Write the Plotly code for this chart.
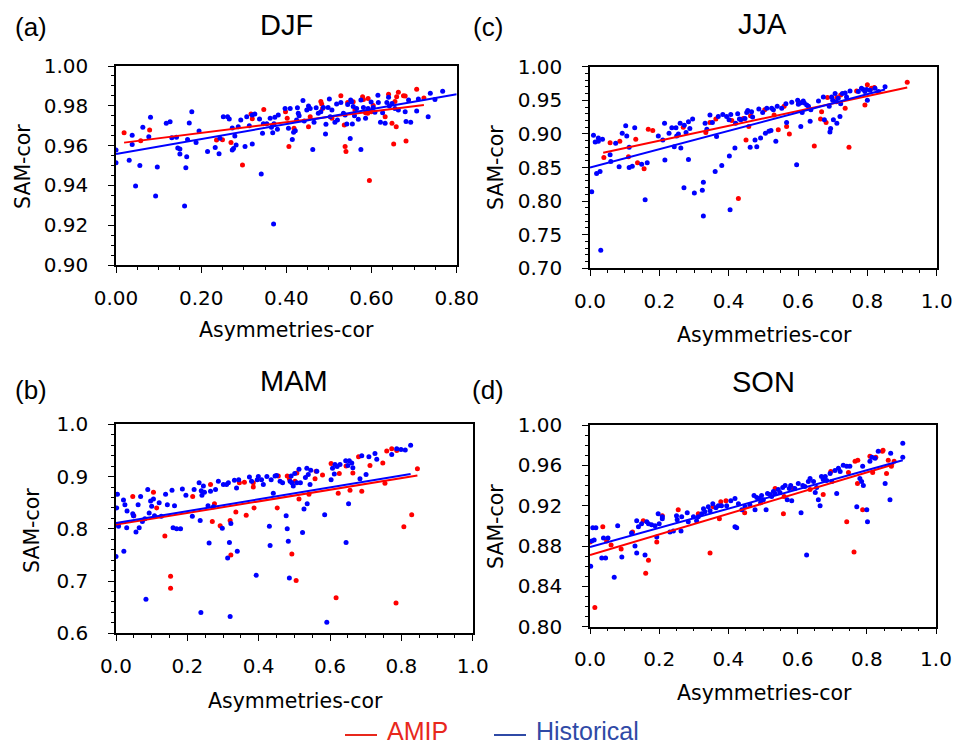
import plotly.graph_objects as go

# ---------------- data ----------------
djf_hist = [(0.000,0.9578),(0.000,0.9514),(0.031,0.9526),(0.038,0.9652),(0.038,0.9606),(0.046,0.9397),
 (0.056,0.9500),(0.063,0.9692),(0.077,0.9645),(0.081,0.9742),(0.093,0.9347),(0.097,0.9492),(0.118,0.9712),
 (0.127,0.9720),(0.131,0.9640),(0.142,0.9642),(0.145,0.9588),(0.150,0.9583),(0.150,0.9558),(0.161,0.9296),
 (0.164,0.9489),(0.166,0.9544),(0.168,0.9631),(0.172,0.9714),(0.178,0.9770),(0.188,0.9616),(0.195,0.9673),
 (0.215,0.9570),(0.233,0.9591),(0.242,0.9559),(0.244,0.9637),(0.252,0.9745),(0.262,0.9745),(0.266,0.9734),
 (0.273,0.9688),(0.273,0.9578),(0.276,0.9586),(0.279,0.9648),(0.282,0.9603),(0.287,0.9695),(0.293,0.9729),
 (0.303,0.9595),(0.307,0.9745),(0.313,0.9700),(0.320,0.9608),(0.320,0.9754),(0.326,0.9759),(0.337,0.9734),
 (0.341,0.9457),(0.344,0.9662),(0.346,0.9710),(0.354,0.9710),(0.362,0.9737),(0.365,0.9692),(0.368,0.9665),
 (0.370,0.9206),(0.371,0.9710),(0.373,0.9742),(0.379,0.9682),(0.381,0.9754),(0.397,0.9787),(0.405,0.9687),
 (0.409,0.9787),(0.414,0.9631),(0.417,0.9667),(0.421,0.9675),(0.424,0.9729),(0.426,0.9790),(0.428,0.9762),
 (0.430,0.9750),(0.439,0.9827),(0.442,0.9724),(0.448,0.9779),(0.452,0.9799),(0.456,0.9787),(0.462,0.9581),
 (0.465,0.9717),(0.470,0.9790),(0.475,0.9762),(0.481,0.9770),(0.487,0.9792),(0.492,0.9658),(0.493,0.9707),
 (0.498,0.9792),(0.501,0.9834),(0.503,0.9745),(0.507,0.9779),(0.514,0.9717),(0.518,0.9809),(0.520,0.9729),
 (0.528,0.9816),(0.534,0.9762),(0.538,0.9754),(0.542,0.9709),(0.544,0.9807),(0.550,0.9636),(0.551,0.9829),
 (0.553,0.9820),(0.555,0.9709),(0.557,0.9796),(0.560,0.9750),(0.565,0.9787),(0.569,0.9732),(0.575,0.9581),
 (0.575,0.9829),(0.581,0.9792),(0.586,0.9737),(0.592,0.9787),(0.599,0.9819),(0.604,0.9792),(0.608,0.9767),
 (0.615,0.9853),(0.616,0.9817),(0.621,0.9717),(0.626,0.9765),(0.632,0.9712),(0.636,0.9816),(0.640,0.9843),
 (0.642,0.9799),(0.648,0.9812),(0.655,0.9787),(0.663,0.9779),(0.679,0.9770),(0.681,0.9721),(0.687,0.9829),
 (0.692,0.9717),(0.706,0.9774),(0.710,0.9834),(0.733,0.9745),(0.738,0.9863),(0.749,0.9832),(0.767,0.9873)]

djf_amip = [(0.019,0.9665),(0.079,0.9678),(0.058,0.9625),(0.236,0.9628),(0.250,0.9630),(0.270,0.9615),
 (0.297,0.9503),(0.317,0.9759),(0.320,0.9735),(0.347,0.9782),(0.398,0.9770),(0.402,0.9737),(0.406,0.9595),
 (0.418,0.9687),(0.452,0.9695),(0.456,0.9745),(0.481,0.9821),(0.483,0.9809),(0.485,0.9787),(0.507,0.9737),
 (0.528,0.9851),(0.536,0.9704),(0.538,0.9595),(0.540,0.9570),(0.544,0.9816),(0.557,0.9820),(0.561,0.9779),
 (0.579,0.9846),(0.581,0.9832),(0.586,0.9765),(0.591,0.9762),(0.592,0.9837),(0.595,0.9424),(0.599,0.9770),
 (0.604,0.9802),(0.632,0.9745),(0.640,0.9858),(0.648,0.9712),(0.652,0.9608),(0.655,0.9821),(0.658,0.9695),
 (0.659,0.9846),(0.663,0.9868),(0.675,0.9851),(0.679,0.9849),(0.681,0.9623),(0.706,0.9883),(0.723,0.9839)]

jja_hist = [(0.005,0.814),(0.010,0.898),(0.015,0.888),(0.019,0.841),(0.024,0.894),(0.024,0.889),(0.029,0.844),
 (0.031,0.727),(0.036,0.892),(0.058,0.869),(0.060,0.859),(0.074,0.886),(0.084,0.851),(0.093,0.901),(0.103,0.912),
 (0.106,0.897),(0.113,0.880),(0.113,0.850),(0.122,0.852),(0.129,0.909),(0.149,0.855),(0.159,0.802),(0.165,0.857),
 (0.197,0.897),(0.210,0.891),(0.215,0.916),(0.216,0.861),(0.228,0.901),(0.236,0.909),(0.243,0.881),(0.248,0.909),
 (0.250,0.897),(0.255,0.900),(0.260,0.916),(0.262,0.879),(0.271,0.820),(0.272,0.913),(0.277,0.902),(0.284,0.918),
 (0.284,0.862),(0.288,0.908),(0.296,0.922),(0.301,0.812),(0.324,0.816),(0.327,0.828),(0.327,0.778),(0.332,0.916),
 (0.337,0.907),(0.346,0.928),(0.353,0.917),(0.361,0.844),(0.365,0.896),(0.370,0.926),(0.380,0.853),(0.383,0.929),
 (0.394,0.926),(0.401,0.921),(0.402,0.867),(0.404,0.787),(0.406,0.929),(0.418,0.879),(0.420,0.916),(0.426,0.930),
 (0.431,0.922),(0.435,0.921),(0.447,0.923),(0.452,0.932),(0.455,0.935),(0.462,0.880),(0.466,0.933),(0.469,0.925),
 (0.476,0.891),(0.481,0.881),(0.487,0.937),(0.492,0.894),(0.498,0.932),(0.506,0.901),(0.510,0.938),(0.516,0.904),
 (0.522,0.905),(0.524,0.938),(0.529,0.936),(0.536,0.889),(0.540,0.941),(0.553,0.938),(0.567,0.917),(0.565,0.945),
 (0.582,0.947),(0.596,0.854),(0.599,0.950),(0.601,0.944),(0.606,0.946),(0.608,0.911),(0.612,0.932),(0.615,0.949),
 (0.618,0.946),(0.625,0.943),(0.630,0.941),(0.635,0.919),(0.637,0.936),(0.659,0.949),(0.673,0.955),(0.676,0.921),
 (0.690,0.941),(0.692,0.903),(0.694,0.908),(0.697,0.955),(0.700,0.950),(0.702,0.921),(0.707,0.960),(0.710,0.948),
 (0.712,0.916),(0.716,0.953),(0.721,0.926),(0.723,0.945),(0.728,0.960),(0.736,0.961),(0.740,0.955),(0.750,0.964),
 (0.774,0.963),(0.783,0.968),(0.788,0.966),(0.793,0.963),(0.798,0.966),(0.800,0.950),(0.808,0.965),(0.822,0.968),
 (0.832,0.963),(0.851,0.970)]

jja_amip = [(0.040,0.865),(0.058,0.887),(0.086,0.889),(0.111,0.866),(0.132,0.892),(0.137,0.857),(0.156,0.848),
 (0.168,0.907),(0.181,0.905),(0.269,0.910),(0.334,0.902),(0.346,0.917),(0.363,0.922),(0.409,0.920),(0.428,0.804),
 (0.442,0.923),(0.450,0.891),(0.458,0.911),(0.463,0.927),(0.504,0.936),(0.531,0.928),(0.543,0.906),(0.560,0.941),
 (0.567,0.911),(0.575,0.900),(0.601,0.948),(0.647,0.882),(0.665,0.922),(0.668,0.933),(0.681,0.917),(0.685,0.954),
 (0.712,0.954),(0.723,0.958),(0.736,0.938),(0.747,0.880),(0.769,0.964),(0.793,0.943),(0.800,0.973),(0.812,0.968),
 (0.820,0.969),(0.915,0.977)]

mam_hist = [(0.000,0.747),(0.002,0.840),(0.004,0.866),(0.006,0.808),(0.007,0.805),(0.021,0.855),(0.022,0.757),
 (0.025,0.846),(0.030,0.802),(0.031,0.834),(0.047,0.829),(0.049,0.825),(0.056,0.794),(0.062,0.846),(0.065,0.802),
 (0.069,0.862),(0.074,0.814),(0.081,0.819),(0.084,0.665),(0.089,0.875),(0.093,0.830),(0.097,0.853),(0.100,0.843),
 (0.105,0.857),(0.108,0.825),(0.121,0.850),(0.127,0.824),(0.139,0.866),(0.144,0.846),(0.157,0.874),(0.160,0.802),
 (0.164,0.844),(0.170,0.800),(0.181,0.800),(0.186,0.876),(0.196,0.864),(0.214,0.824),(0.219,0.875),(0.233,0.888),
 (0.236,0.816),(0.238,0.640),(0.239,0.873),(0.241,0.864),(0.245,0.882),(0.248,0.870),(0.258,0.844),(0.261,0.773),
 (0.265,0.872),(0.273,0.842),(0.279,0.875),(0.287,0.891),(0.298,0.801),(0.301,0.885),(0.310,0.885),(0.313,0.744),
 (0.315,0.888),(0.318,0.774),(0.320,0.632),(0.322,0.810),(0.332,0.893),(0.338,0.878),(0.340,0.757),(0.344,0.894),
 (0.374,0.899),(0.380,0.891),(0.393,0.711),(0.396,0.894),(0.399,0.900),(0.408,0.894),(0.413,0.885),(0.423,0.900),
 (0.430,0.805),(0.432,0.768),(0.435,0.894),(0.441,0.868),(0.446,0.901),(0.450,0.902),(0.460,0.891),(0.467,0.888),
 (0.477,0.825),(0.480,0.800),(0.483,0.776),(0.486,0.706),(0.488,0.891),(0.491,0.901),(0.493,0.888),(0.497,0.882),
 (0.501,0.906),(0.507,0.888),(0.513,0.914),(0.517,0.888),(0.523,0.793),(0.527,0.838),(0.531,0.898),(0.535,0.916),
 (0.536,0.848),(0.539,0.904),(0.544,0.885),(0.546,0.912),(0.563,0.910),(0.585,0.827),(0.591,0.621),(0.603,0.894),
 (0.607,0.916),(0.612,0.905),(0.614,0.923),(0.620,0.919),(0.628,0.923),(0.644,0.930),(0.645,0.774),(0.650,0.921),
 (0.652,0.848),(0.654,0.930),(0.661,0.926),(0.664,0.917),(0.684,0.896),(0.689,0.940),(0.701,0.904),(0.709,0.938),
 (0.726,0.944),(0.731,0.933),(0.773,0.942),(0.787,0.953),(0.799,0.952),(0.811,0.951),(0.826,0.960)]

mam_amip = [(0.047,0.862),(0.050,0.825),(0.105,0.870),(0.114,0.840),(0.137,0.786),(0.153,0.709),(0.153,0.686),
 (0.215,0.862),(0.265,0.885),(0.270,0.814),(0.276,0.848),(0.292,0.806),(0.320,0.816),(0.322,0.750),(0.336,0.832),
 (0.346,0.888),(0.360,0.889),(0.365,0.826),(0.385,0.888),(0.385,0.880),(0.387,0.840),(0.452,0.840),(0.455,0.901),
 (0.480,0.901),(0.486,0.896),(0.493,0.752),(0.502,0.891),(0.505,0.701),(0.507,0.907),(0.513,0.857),(0.541,0.866),
 (0.558,0.896),(0.561,0.910),(0.579,0.903),(0.603,0.925),(0.617,0.668),(0.623,0.868),(0.626,0.906),(0.645,0.920),
 (0.656,0.874),(0.664,0.907),(0.680,0.938),(0.689,0.872),(0.712,0.921),(0.748,0.926),(0.754,0.887),(0.759,0.949),
 (0.773,0.953),(0.787,0.950),(0.785,0.658),(0.807,0.804),(0.829,0.827),(0.845,0.915)]

son_hist = [(0.002,0.860),(0.005,0.885),(0.008,0.898),(0.012,0.886),(0.017,0.898),(0.034,0.868),(0.039,0.888),
 (0.045,0.868),(0.052,0.888),(0.070,0.849),(0.080,0.900),(0.092,0.869),(0.120,0.893),(0.130,0.880),(0.135,0.905),
 (0.135,0.873),(0.140,0.899),(0.149,0.902),(0.159,0.871),(0.164,0.904),(0.169,0.902),(0.178,0.901),(0.188,0.900),
 (0.193,0.889),(0.197,0.912),(0.200,0.902),(0.209,0.909),(0.209,0.907),(0.231,0.894),(0.241,0.895),(0.250,0.910),
 (0.252,0.906),(0.263,0.895),(0.265,0.909),(0.281,0.913),(0.284,0.904),(0.299,0.909),(0.308,0.905),(0.313,0.909),
 (0.323,0.912),(0.328,0.917),(0.332,0.914),(0.342,0.919),(0.347,0.915),(0.355,0.922),(0.364,0.918),(0.371,0.920),
 (0.380,0.920),(0.395,0.920),(0.407,0.925),(0.419,0.927),(0.419,0.899),(0.424,0.898),(0.429,0.922),(0.439,0.916),
 (0.448,0.919),(0.462,0.921),(0.474,0.930),(0.477,0.916),(0.482,0.928),(0.489,0.927),(0.493,0.923),(0.496,0.930),
 (0.501,0.926),(0.509,0.916),(0.513,0.932),(0.520,0.931),(0.525,0.929),(0.530,0.934),(0.535,0.932),(0.544,0.936),
 (0.549,0.933),(0.557,0.938),(0.564,0.940),(0.570,0.926),(0.576,0.937),(0.580,0.940),(0.583,0.925),(0.592,0.937),
 (0.602,0.942),(0.610,0.913),(0.615,0.940),(0.621,0.939),(0.626,0.871),(0.631,0.944),(0.636,0.947),(0.646,0.944),
 (0.651,0.933),(0.655,0.938),(0.660,0.926),(0.665,0.920),(0.669,0.949),(0.674,0.946),(0.680,0.949),(0.684,0.945),
 (0.694,0.952),(0.699,0.944),(0.708,0.955),(0.713,0.932),(0.718,0.957),(0.723,0.954),(0.732,0.960),(0.742,0.959),
 (0.751,0.959),(0.771,0.919),(0.780,0.947),(0.785,0.944),(0.788,0.959),(0.790,0.940),(0.800,0.916),(0.802,0.904),
 (0.809,0.964),(0.815,0.968),(0.824,0.967),(0.833,0.974),(0.853,0.942),(0.867,0.926),(0.869,0.972),(0.904,0.982),
 (0.904,0.968)]

son_amip = [(0.000,0.884),(0.014,0.819),(0.037,0.899),(0.048,0.885),(0.061,0.881),(0.090,0.877),(0.123,0.894),
 (0.154,0.905),(0.161,0.853),(0.169,0.866),(0.193,0.884),(0.209,0.910),(0.255,0.916),(0.313,0.912),(0.347,0.873),
 (0.356,0.919),(0.374,0.907),(0.378,0.924),(0.393,0.925),(0.447,0.913),(0.535,0.937),(0.559,0.912),(0.561,0.929),
 (0.588,0.937),(0.636,0.936),(0.674,0.931),(0.696,0.954),(0.742,0.904),(0.747,0.953),(0.763,0.874),(0.766,0.964),
 (0.774,0.965),(0.773,0.942),(0.788,0.916),(0.809,0.969),(0.817,0.953),(0.826,0.968),(0.845,0.974),(0.847,0.975),
 (0.857,0.952),(0.862,0.965),(0.871,0.959),(0.879,0.964)]

# regression lines (end points)
djf_amip_fit = [(0.019, 0.9615), (0.723, 0.9804)]
djf_hist_fit = [(0.000, 0.9558), (0.800, 0.9858)]
jja_amip_fit = [(0.038, 0.872), (0.915, 0.969)]
jja_hist_fit = [(0.000, 0.850), (0.851, 0.966)]
mam_amip_fit = [(0.000, 0.808), (0.845, 0.902)]
mam_hist_fit = [(0.000, 0.811), (0.826, 0.905)]
son_amip_fit = [(0.000, 0.871), (0.879, 0.961)]
son_hist_fit = [(0.000, 0.879), (0.904, 0.965)]

seasons = ["DJF", "JJA", "MAM", "SON"]
panel_labels = ["(a)", "(c)", "(b)", "(d)"]
series_names = ["AMIP", "Historical"]

djf_xticks = [0.0, 0.2, 0.4, 0.6, 0.8]
djf_xticktext = ["0.00", "0.20", "0.40", "0.60", "0.80"]
djf_yticks = [0.90, 0.92, 0.94, 0.96, 0.98, 1.00]
djf_yticktext = ["0.90", "0.92", "0.94", "0.96", "0.98", "1.00"]
x10_ticks = [0.0, 0.2, 0.4, 0.6, 0.8, 1.0]
x10_ticktext = ["0.0", "0.2", "0.4", "0.6", "0.8", "1.0"]
jja_yticks = [0.70, 0.75, 0.80, 0.85, 0.90, 0.95, 1.00]
jja_yticktext = ["0.70", "0.75", "0.80", "0.85", "0.90", "0.95", "1.00"]
mam_yticks = [0.6, 0.7, 0.8, 0.9, 1.0]
mam_yticktext = ["0.6", "0.7", "0.8", "0.9", "1.0"]
son_yticks = [0.80, 0.84, 0.88, 0.92, 0.96, 1.00]
son_yticktext = ["0.80", "0.84", "0.88", "0.92", "0.96", "1.00"]

# ---------------- layout helpers ----------------
W, H = 965, 747
def px(x):
    return x / W
def py(y):
    return 1 - y / H

RED = "#ff0000"
BLUE = "#0000ff"
FONT = "Liberation Sans"
WIDE = "DejaVu Sans"

panels = [
    ("", djf_amip, djf_hist, djf_amip_fit, djf_hist_fit, (116, 456.7, 66, 265), [0, 0.8], [0.9, 1.0],
     djf_xticks, djf_xticktext, djf_yticks, djf_yticktext, 0.05, 0.005),
    ("2", jja_amip, jja_hist, jja_amip_fit, jja_hist_fit, (590, 936.7, 66.7, 268.3), [0, 1.0], [0.7, 1.0],
     x10_ticks, x10_ticktext, jja_yticks, jja_yticktext, 0.05, 0.01),
    ("3", mam_amip, mam_hist, mam_amip_fit, mam_hist_fit, (116, 472.7, 424.3, 633.3), [0, 1.0], [0.6, 1.0],
     x10_ticks, x10_ticktext, mam_yticks, mam_yticktext, 0.05, 0.02),
    ("4", son_amip, son_hist, son_amip_fit, son_hist_fit, (590, 936, 425, 626.7), [0, 1.0], [0.8, 1.0],
     x10_ticks, x10_ticktext, son_yticks, son_yticktext, 0.05, 0.01),
]

fig = go.Figure()
layout = dict(width=W, height=H, margin=dict(l=0, r=0, t=0, b=0, pad=0, autoexpand=False),
              paper_bgcolor="white", plot_bgcolor="white", showlegend=False,
              font=dict(family=FONT, color="black"))

for (suf, amip, hist, afit, hfit, box, xr, yr, xt, xtt, yt, ytt, xmin, ymin) in panels:
    xa = "x" + suf
    ya = "y" + suf
    for pts, col, nm in ((amip, RED, series_names[0]), (hist, BLUE, series_names[1])):
        fig.add_trace(go.Scatter(x=[p[0] for p in pts], y=[p[1] for p in pts], mode="markers",
                                 marker=dict(color=col, size=5, line=dict(width=0)),
                                 name=nm, xaxis=xa, yaxis=ya))
    for fit, col, nm in ((afit, RED, series_names[0]), (hfit, BLUE, series_names[1])):
        fig.add_trace(go.Scatter(x=[p[0] for p in fit], y=[p[1] for p in fit], mode="lines",
                                 line=dict(color=col, width=2), name=nm, xaxis=xa, yaxis=ya))
    l, r, t, b = box
    axis_common = dict(showline=True, linecolor="black", linewidth=1.5, mirror=True, showgrid=False,
                       zeroline=False, ticks="outside", ticklen=6, tickwidth=1.2, tickcolor="black",
                       automargin=False, tickfont=dict(size=20, family=WIDE, color="black"))
    layout["xaxis" + suf] = dict(axis_common, domain=[px(l), px(r)], range=xr, anchor=ya,
                                 tickvals=xt, ticktext=xtt, ticklabelstandoff=8,
                                 minor=dict(dtick=xmin, ticks="outside", ticklen=3, tickcolor="black",
                                            tickwidth=1, showgrid=False))
    layout["yaxis" + suf] = dict(axis_common, domain=[py(b), py(t)], range=yr, anchor=xa,
                                 tickvals=yt, ticktext=ytt, ticklabelstandoff=16,
                                 minor=dict(dtick=ymin, ticks="outside", ticklen=3, tickcolor="black",
                                            tickwidth=1, showgrid=False))

annotations = []
def ann(text, x, y, size, family=FONT, color="black", angle=0, xanchor="center"):
    annotations.append(dict(text=text, x=px(x), y=py(y), xref="paper", yref="paper", showarrow=False,
                            xanchor=xanchor, yanchor="middle", textangle=angle,
                            font=dict(size=size, family=family, color=color)))

# titles and panel letters
title_pos = [(286, 25), (762, 24), (294, 381), (763, 382)]
label_pos = [(31, 27), (488, 27), (31, 390), (488, 390)]
for s, lbl, tp, lp in zip(seasons, panel_labels, title_pos, label_pos):
    ann(s, tp[0], tp[1], 29)
    ann(lbl, lp[0], lp[1], 26)

# axis titles
xtitle_pos = [(286, 330), (764, 335), (295, 701), (764, 693)]
ytitle_pos = [(23, 167), (496, 168), (32, 531), (496, 527)]
for p in xtitle_pos:
    ann("Asymmetries-cor", p[0], p[1], 20.5, family=WIDE)
for p in ytitle_pos:
    ann("SAM-cor", p[0], p[1], 20.5, family=WIDE, angle=-90)

# legend
LEG_RED = "#e8281c"
LEG_BLUE = "#2f4aa6"
shapes = [
    dict(type="line", xref="paper", yref="paper", x0=px(345), x1=px(377), y0=py(735), y1=py(735),
         line=dict(color=LEG_RED, width=2)),
    dict(type="line", xref="paper", yref="paper", x0=px(494), x1=px(526), y0=py(735), y1=py(735),
         line=dict(color=LEG_BLUE, width=2)),
]
ann(series_names[0], 385, 731, 25, color=LEG_RED, xanchor="left")
ann(series_names[1], 534, 731, 25, color=LEG_BLUE, xanchor="left")

layout["annotations"] = annotations
layout["shapes"] = shapes
fig.update_layout(**layout)
fig.write_html("out.html")
